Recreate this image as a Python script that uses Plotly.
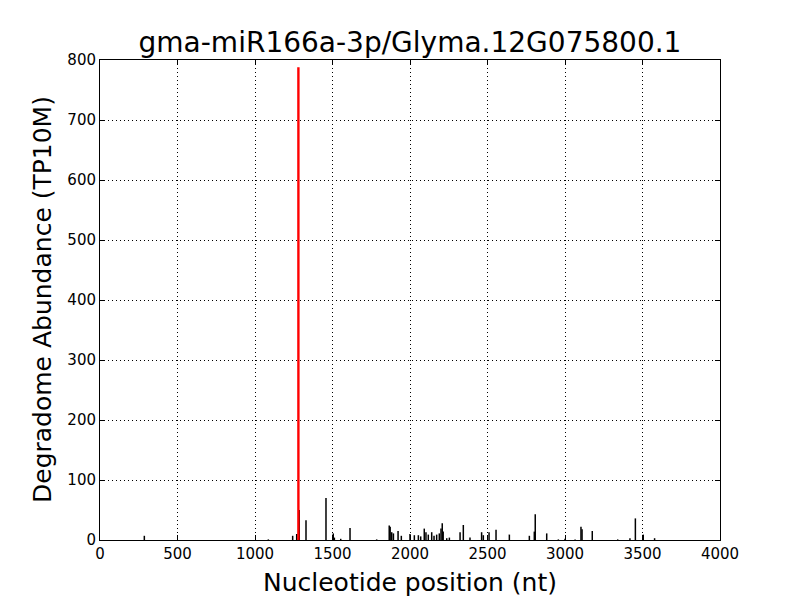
import plotly.graph_objects as go

# Degradome signal: black bars (non-target positions)
positions = [286, 1086, 1243, 1269, 1285, 1329, 1458, 1505, 1512, 1553, 1613, 1785,
             1866, 1872, 1882, 1893, 1923, 1944, 2000, 2028, 2054, 2069, 2092, 2103,
             2118, 2140, 2155, 2172, 2189, 2200, 2208, 2214, 2237, 2254, 2323, 2344,
             2387, 2462, 2473, 2510, 2555, 2641, 2770, 2802, 2808, 2882, 2957, 3000,
             3065, 3103, 3110, 3176, 3340, 3419, 3454, 3505, 3578]
abundance = [7, 1, 7, 10, 50, 33, 70, 11, 4, 2, 20, 1,
             24, 22, 13, 11, 15, 7, 10, 8, 8, 6, 19, 13,
             9, 13, 7, 9, 11, 19, 28, 14, 3, 4, 13, 25,
             4, 13, 8, 13, 17, 9, 7, 14, 43, 11, 1, 2,
             1, 22, 18, 15, 1, 3, 36, 9, 3]

# Target (cleavage) site highlighted in red
target_position = [1280]
target_abundance = [788]

title = "gma-miR166a-3p/Glyma.12G075800.1"
x_label = "Nucleotide position (nt)"
y_label = "Degradome Abundance (TP10M)"
x_ticks = [0, 500, 1000, 1500, 2000, 2500, 3000, 3500, 4000]
y_ticks = [0, 100, 200, 300, 400, 500, 600, 700, 800]


def segments(xs, ys):
    sx, sy = [], []
    for x, y in zip(xs, ys):
        sx += [x, x, None]
        sy += [0, y, None]
    return sx, sy


bx, by = segments(positions, abundance)
rx, ry = segments(target_position, target_abundance)

fig = go.Figure()
fig.add_trace(go.Scatter(x=bx, y=by, mode="lines",
                         line=dict(color="black", width=1.5), hoverinfo="skip"))
fig.add_trace(go.Scatter(x=rx, y=ry, mode="lines",
                         line=dict(color="red", width=2.4), hoverinfo="skip"))

axis_common = dict(
    showline=True, linecolor="black", linewidth=1, mirror="allticks",
    ticks="inside", ticklen=5, tickwidth=1, tickcolor="black",
    showgrid=True, gridcolor="black", gridwidth=0.8, griddash="1px,3px",
    zeroline=False, tickfont=dict(family="DejaVu Sans", size=15, color="black"),
)

fig.update_layout(
    width=800, height=600,
    margin=dict(l=92, r=88, t=52, b=68),
    paper_bgcolor="white", plot_bgcolor="white",
    showlegend=False,
    font=dict(family="DejaVu Sans", color="black"),
    title=dict(text=title, x=0.5025, xanchor="center", y=1 - 34 / 600, yanchor="middle",
               yref="container", font=dict(size=28, family="DejaVu Sans", color="black")),
    xaxis=dict(range=[0, 4000], tickvals=x_ticks, **axis_common),
    yaxis=dict(range=[0, 800], tickvals=y_ticks, **axis_common),
    annotations=[
        dict(text=x_label, x=0.5, y=-42 / 480, xref="paper", yref="paper",
             xanchor="center", yanchor="middle", showarrow=False,
             font=dict(size=25, family="DejaVu Sans", color="black")),
        dict(text=y_label, x=-58 / 620, y=0.5, xref="paper", yref="paper",
             xanchor="center", yanchor="middle", showarrow=False, textangle=-90,
             font=dict(size=25, family="DejaVu Sans", color="black")),
    ],
)

fig.write_html("out.html")
